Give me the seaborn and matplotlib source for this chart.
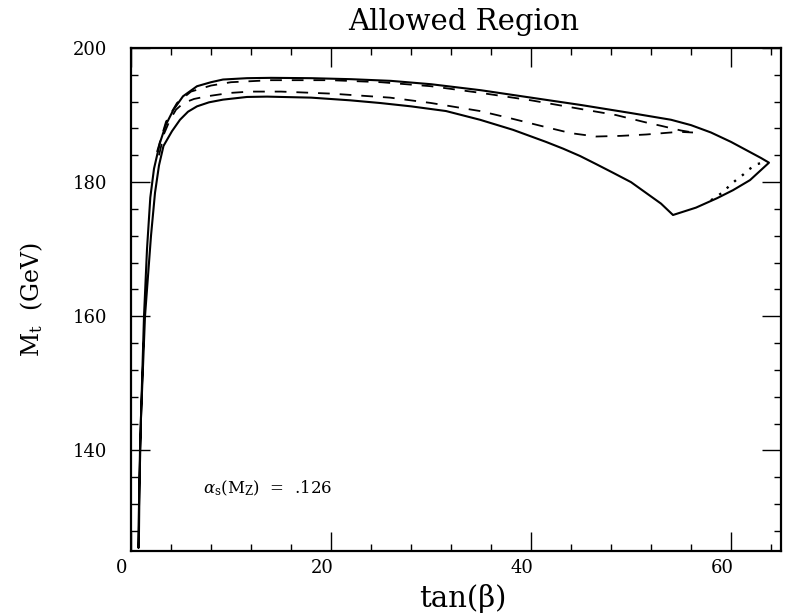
import matplotlib
matplotlib.use("Agg")
import matplotlib.pyplot as plt
import matplotlib.transforms as mtransforms
from matplotlib.ticker import MultipleLocator
import numpy as np
import pandas as pd
import seaborn as sns

# Outer allowed-region boundary (solid): upper edge, tip-to-cusp edge, lower edge
upper_tanb = [0.72, 0.9, 1.1, 1.3, 1.6, 1.93, 2.3, 2.9, 3.5, 4.25, 5.2, 6.6, 8.0,
              9.2, 11.6, 14.0, 18.0, 22.0, 26.0, 30.0, 35.0, 40.0, 45.0, 50.0, 52.0,
              54.0, 56.0, 58.0, 60.0, 61.5, 63.0, 63.8]
upper_mt = [125.5, 140.0, 150.0, 160.0, 170.0, 177.7, 182.0, 185.9, 188.6, 190.8, 192.8,
            194.3, 194.9, 195.3, 195.5, 195.55, 195.5, 195.35, 195.1, 194.6,
            193.7, 192.6, 191.5, 190.3, 189.8, 189.3, 188.5, 187.4, 186.0, 184.8,
            183.6, 182.9]

edge_tanb = [63.8, 61.9, 60.2, 58.6, 56.5, 54.2]
edge_mt = [182.9, 180.3, 178.8, 177.6, 176.2, 175.1]

lower_tanb = [54.2, 53.0, 51.5, 50.0, 48.2, 46.5, 44.9, 43.2, 41.5, 38.2, 34.9, 31.5,
              28.0, 24.9, 21.9, 18.0, 13.6, 11.6, 9.2, 7.8, 6.6, 5.7, 4.9, 4.1, 3.25,
              2.8, 2.4, 2.0, 1.4, 1.0, 0.85, 0.78]
lower_mt = [175.1, 176.8, 178.4, 180.0, 181.4, 182.7, 183.9, 185.0, 186.0, 187.8, 189.3,
            190.6, 191.3, 191.8, 192.2, 192.6, 192.75, 192.7, 192.3, 191.9, 191.3,
            190.5, 189.3, 187.6, 185.4, 182.5, 178.4, 172.0, 160.0, 145.0, 135.0,
            125.5]

# Dashed sub-region
dash_up_tanb = [2.6, 3.5, 4.6, 6.0, 8.0, 10.0, 14.0, 20.0, 25.0, 30.0, 35.0, 40.0,
                45.0, 48.5, 51.5, 53.0, 55.0, 56.2]
dash_up_mt = [184.5, 189.0, 191.8, 193.5, 194.4, 194.9, 195.2, 195.2, 194.9, 194.3,
              193.3, 192.2, 190.9, 190.0, 188.9, 188.4, 187.7, 187.4]

dash_lo_tanb = [2.8, 3.3, 3.9, 4.5, 5.25, 6.3, 7.6, 9.9, 11.9, 15.0, 20.0, 25.9, 30.0,
                34.9, 38.0, 41.5, 44.0, 46.5, 49.0, 51.5, 54.8, 56.2]
dash_lo_mt = [184.0, 187.2, 189.3, 190.8, 191.8, 192.4, 192.8, 193.3, 193.5, 193.5,
              193.2, 192.6, 191.8, 190.6, 189.5, 188.2, 187.3, 186.8, 186.9, 187.1,
              187.5, 187.4]

# Dotted edge near the tip
dot_tanb = [58.0, 59.2, 59.8, 60.5, 61.2, 61.8, 62.6, 63.6]
dot_mt = [177.3, 178.5, 179.4, 180.3, 181.1, 181.9, 182.7, 183.0]

x_major = [0, 20, 40, 60]
y_major = [140, 160, 180, 200]

sns.set_theme(style="ticks")
plt.rcParams["font.family"] = ["DejaVu Serif"]
plt.rcParams["mathtext.fontset"] = "dejavuserif"
plt.rcParams["text.color"] = "black"
plt.rcParams["axes.labelcolor"] = "black"

fig = plt.figure(figsize=(7.88, 6.15), dpi=100)
ax = fig.add_axes([131 / 788, 1 - 551 / 615, 650 / 788, 503 / 615])

solid = pd.DataFrame({
    "tanb": upper_tanb + edge_tanb[1:] + lower_tanb[1:],
    "mt": upper_mt + edge_mt[1:] + lower_mt[1:],
})
sns.lineplot(data=solid, x="tanb", y="mt", sort=False, estimator=None,
             color="black", linewidth=1.5, ax=ax)

for xs, ys in [(dash_up_tanb, dash_up_mt), (dash_lo_tanb, dash_lo_mt)]:
    sns.lineplot(x=xs, y=ys, sort=False, estimator=None, color="black",
                 linewidth=1.3, linestyle=(0, (6.5, 5.5)), ax=ax)

sns.lineplot(x=dot_tanb, y=dot_mt, sort=False, estimator=None, color="black",
             linewidth=1.7, linestyle=(0, (1, 3.2)), ax=ax)

ax.set_xlim(0, 65)
ax.set_ylim(125, 200)
ax.set_xticks(x_major)
ax.set_yticks(y_major)
ax.xaxis.set_minor_locator(MultipleLocator(4))
ax.yaxis.set_minor_locator(MultipleLocator(4))
ax.tick_params(which="both", direction="in", top=True, right=True,
               colors="black", width=1.0)
ax.tick_params(which="major", length=14)
ax.tick_params(which="minor", length=5)
ax.tick_params(axis="x", which="major", labelsize=13, pad=6)
ax.tick_params(axis="y", which="major", labelsize=13, pad=17)
for lab in ax.get_xticklabels():
    lab.set_transform(lab.get_transform() +
                      mtransforms.ScaledTranslation(-0.09, 0, fig.dpi_scale_trans))

for sp in ax.spines.values():
    sp.set_linewidth(1.6)
    sp.set_color("black")

ax.set_title("Allowed Region", fontsize=21, x=0.512, pad=13, color="black")
ax.set_xlabel("tan(β)", fontsize=21)
ax.xaxis.set_label_coords(0.511, -0.066)
ax.set_ylabel(r"$\mathrm{M}_\mathrm{t}$  (GeV)", fontsize=17)
ax.yaxis.set_label_coords(-0.132, 0.5)

ax.text(7.2, 134.3, r"$\alpha_\mathrm{s}(\mathrm{M_Z})$  =  .126", fontsize=12,
        ha="left", va="center")

fig.savefig("out.png", dpi=100)
